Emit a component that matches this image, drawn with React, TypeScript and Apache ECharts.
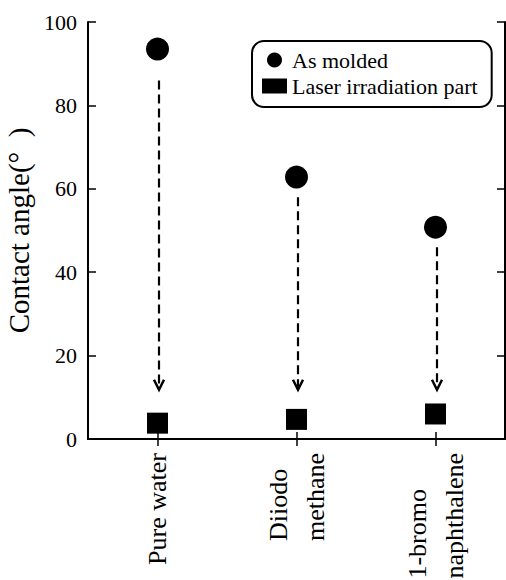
import React, { useEffect, useRef } from "react";
import * as echarts from "echarts";

const categories = ["Pure water", "Diiodo\nmethane", "1-bromo\nnaphthalene"];
const asMolded = [93.5, 62.8, 50.8];
const laserPart = [3.8, 4.7, 6.0];
const arrowFrom = [86, 58, 46];
const arrowTo = [11.8, 11.8, 11.8];
const yMin = 0;
const yMax = 100;
const yInterval = 20;
const seriesNames = ["As molded", "Laser irradiation part"];
const yTitle = "Contact angle(°  )";

const font = "Liberation Serif";

export default function App() {
  const ref = useRef<HTMLDivElement>(null);
  useEffect(() => {
    const chart = echarts.init(ref.current!, null, { renderer: "svg" });
    const axisLine = { show: true, lineStyle: { color: "#000", width: 2 } };
    const tick = { show: true, inside: true, length: 8, lineStyle: { color: "#000", width: 1.5 } };
    chart.setOption({
      animation: false,
      backgroundColor: "#fff",
      textStyle: { fontFamily: font, color: "#000" },
      grid: {
        left: 88,
        top: 22,
        right: 1,
        bottom: 141,
        containLabel: false,
        outerBoundsMode: "none",
      },
      legend: {
        data: [
          { name: seriesNames[0], icon: "circle", itemStyle: { color: "#000", opacity: 1 } },
          { name: seriesNames[1], icon: "rect", itemStyle: { color: "#000", opacity: 1 } },
        ],
        selectedMode: false,
        orient: "vertical",
        left: 252,
        top: 41,
        itemWidth: 25,
        itemHeight: 15,
        itemGap: 4,
        padding: [8, 14, 10, 10],
        borderColor: "#000",
        borderWidth: 2,
        borderRadius: 12,
        backgroundColor: "#fff",
        textStyle: { fontFamily: font, fontSize: 22, color: "#000" },
      },
      xAxis: [
        {
          type: "category",
          data: categories,
          position: "bottom",
          boundaryGap: true,
          axisLine,
          axisTick: { ...tick, alignWithLabel: true, length: 7 },
          splitLine: { show: false },
          axisLabel: {
            rotate: 90,
            margin: 14,
            interval: 0,
            hideOverlap: false,
            color: "#000",
            fontFamily: font,
            fontSize: 26,
            formatter: (v: string) => v.split("\n").map((s) => `{a|${s}}`).join("\n"),
            rich: {
              a: { align: "left", fontFamily: font, fontSize: 26, lineHeight: 37, color: "#000" },
            },
          },
        },
        {
          type: "category",
          data: categories,
          position: "top",
          boundaryGap: true,
          axisLine,
          axisTick: { ...tick, alignWithLabel: true, length: 7 },
          axisLabel: { show: false },
          splitLine: { show: false },
        },
      ],
      yAxis: [
        {
          type: "value",
          min: yMin,
          max: yMax,
          interval: yInterval,
          position: "left",
          axisLine,
          axisTick: tick,
          splitLine: { show: false },
          axisLabel: { color: "#000", fontFamily: font, fontSize: 22, margin: 11 },
          name: yTitle,
          nameLocation: "middle",
          nameGap: 44,
          nameTextStyle: { color: "#000", fontFamily: font, fontSize: 29 },
        },
        {
          type: "value",
          min: yMin,
          max: yMax,
          interval: yInterval,
          position: "right",
          axisLine,
          axisTick: tick,
          splitLine: { show: false },
          axisLabel: { show: false },
        },
      ],
      series: [
        {
          type: "custom",
          silent: true,
          z: 1,
          xAxisIndex: 0,
          yAxisIndex: 0,
          data: categories.map((_, i) => [i, arrowFrom[i], arrowTo[i]]),
          encode: { x: 0, y: [1, 2] },
          renderItem: (params: any, api: any) => {
            const top = api.coord([api.value(0), api.value(1)]);
            const tip = api.coord([api.value(0), api.value(2)]);
            const x = top[0] + 1.5;
            return {
              type: "group",
              children: [
                {
                  type: "line",
                  shape: { x1: x, y1: top[1], x2: x, y2: tip[1] - 3 },
                  style: { stroke: "#000", lineWidth: 2.2, lineDash: [9, 5] },
                },
                {
                  type: "polyline",
                  shape: { points: [[x - 5, tip[1] - 10], [x, tip[1]], [x + 5, tip[1] - 10]] },
                  style: { stroke: "#000", lineWidth: 2.5, fill: null },
                },
              ],
            };
          },
        },
        {
          name: seriesNames[0],
          type: "scatter",
          symbol: "circle",
          symbolSize: 23,
          z: 3,
          itemStyle: { color: "#000", opacity: 1 },
          data: asMolded,
        },
        {
          name: seriesNames[1],
          type: "scatter",
          symbol: "rect",
          symbolSize: 21,
          z: 3,
          itemStyle: { color: "#000", opacity: 1 },
          data: laserPart,
        },
      ],
    });
    return () => chart.dispose();
  }, []);
  return (
    <div
      ref={ref}
      style={{ position: "fixed", left: 0, top: 0, width: 506, height: 580, background: "#fff" }}
    />
  );
}
